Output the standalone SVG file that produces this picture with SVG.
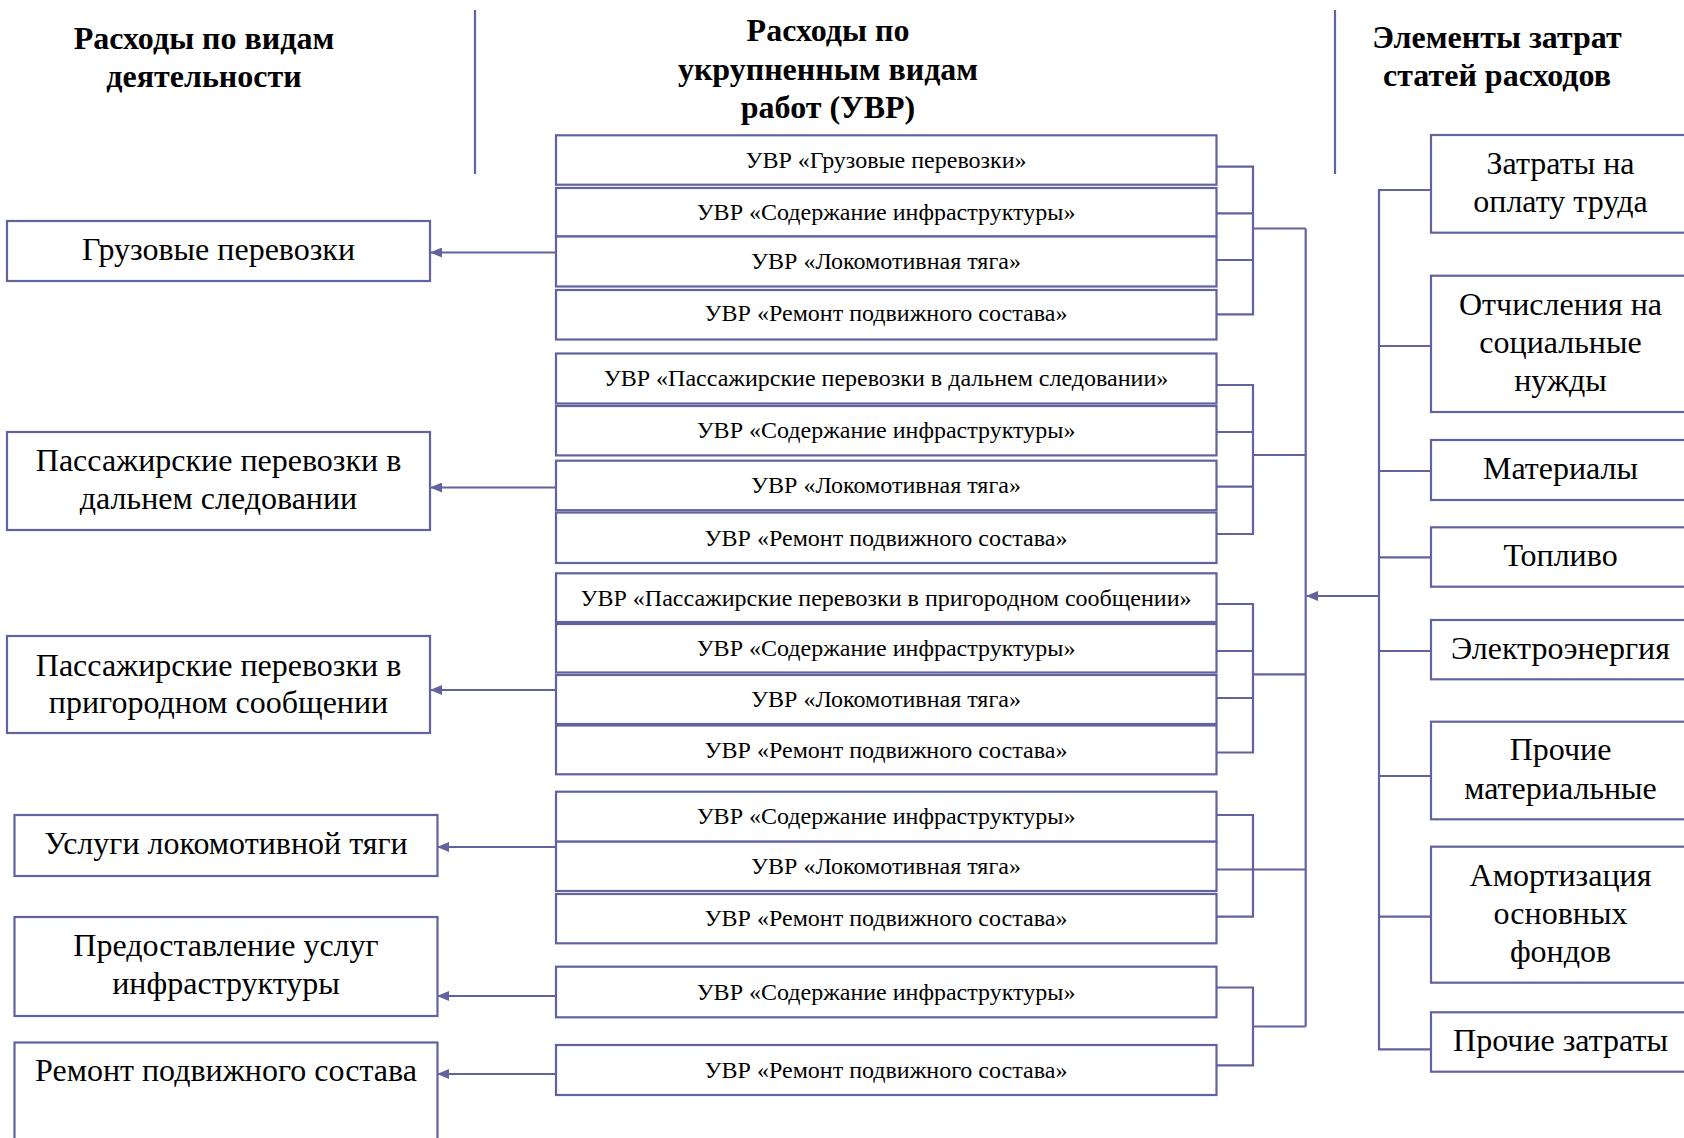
<svg xmlns="http://www.w3.org/2000/svg" width="1684" height="1138" viewBox="0 0 1684 1138">
<style>
.bx{fill:#fff;stroke:#62639e;stroke-width:2.2}
.ln{fill:none;stroke:#62639e;stroke-width:2.2}
.t{font-family:"Liberation Serif","Times New Roman",serif;fill:#000;text-anchor:middle}
.big{font-size:32px}
.uvr{font-size:24px}
.hd{font-size:32px;font-weight:bold}
</style>
<defs>
<marker id="ah" viewBox="0 0 12 10" refX="11" refY="5" markerWidth="12" markerHeight="10" markerUnits="userSpaceOnUse" orient="auto">
<path d="M0,0 L12,5 L0,10 z" fill="#62639e"/>
</marker>
</defs>
<rect width="1684" height="1138" fill="#fff"/>

<g id="headings">
<text class="t hd" x="204" y="49">Расходы по видам</text>
<text class="t hd" x="204" y="87">деятельности</text>
<text class="t hd" x="828" y="41">Расходы по</text>
<text class="t hd" x="828" y="80">укрупненным видам</text>
<text class="t hd" x="828" y="118">работ (УВР)</text>
<text class="t hd" x="1497" y="48">Элементы затрат</text>
<text class="t hd" x="1497" y="86">статей расходов</text>
<line class="ln" x1="475" y1="10" x2="475" y2="174"/>
<line class="ln" x1="1335" y1="10" x2="1335" y2="174"/>
</g>

<g id="connectors">
<line class="ln" x1="556" y1="252.5" x2="431" y2="252.5" marker-end="url(#ah)"/>
<line class="ln" x1="556" y1="487.5" x2="431" y2="487.5" marker-end="url(#ah)"/>
<line class="ln" x1="556" y1="690" x2="431" y2="690" marker-end="url(#ah)"/>
<line class="ln" x1="556" y1="847" x2="438" y2="847" marker-end="url(#ah)"/>
<line class="ln" x1="556" y1="996" x2="438" y2="996" marker-end="url(#ah)"/>
<line class="ln" x1="556" y1="1074" x2="438" y2="1074" marker-end="url(#ah)"/>
<path class="ln" d="M1216.5,166.7H1253V314.3H1216.5M1216.5,213.3H1253M1216.5,260H1253M1253,228.5H1305.7"/>
<path class="ln" d="M1216.5,385H1253V534H1216.5M1216.5,432H1253M1216.5,486.6H1253M1253,455H1305.7"/>
<path class="ln" d="M1216.5,604H1253V752.5H1216.5M1216.5,651H1253M1216.5,698H1253M1253,674.3H1305.7"/>
<path class="ln" d="M1216.5,815H1253V916.7H1216.5M1216.5,869.5H1305.7"/>
<path class="ln" d="M1216.5,987.5H1253V1065.3H1216.5M1253,1026.5H1305.7"/>
<line class="ln" x1="1305.7" y1="228.5" x2="1305.7" y2="1026.5"/>
<line class="ln" x1="1379" y1="596" x2="1307" y2="596" marker-end="url(#ah)"/>
<path class="ln" d="M1431,190H1379V1049.3H1431M1379,346H1431M1379,471H1431M1379,557.3H1431M1379,651H1431M1379,776H1431M1379,916.7H1431"/>
</g>

<g id="act-freight"><rect class="bx" x="7" y="221" width="423" height="60"/><text class="t big" x="218.5" y="260">Грузовые перевозки</text></g>
<g id="act-long"><rect class="bx" x="7" y="432" width="423" height="98"/><text class="t big" x="218.5" y="471">Пассажирские перевозки в</text><text class="t big" x="218.5" y="509">дальнем следовании</text></g>
<g id="act-suburb"><rect class="bx" x="7" y="636" width="423" height="97"/><text class="t big" x="218.5" y="675.5">Пассажирские перевозки в</text><text class="t big" x="218.5" y="713">пригородном сообщении</text></g>
<g id="act-loco"><rect class="bx" x="14.5" y="815" width="423" height="61"/><text class="t big" x="226" y="853.5">Услуги локомотивной тяги</text></g>
<g id="act-infra"><rect class="bx" x="14.5" y="917" width="423" height="99"/><text class="t big" x="226" y="955.5">Предоставление услуг</text><text class="t big" x="226" y="993.5">инфраструктуры</text></g>
<g id="act-repair"><rect class="bx" x="14.5" y="1042.5" width="423" height="110"/><text class="t big" x="226" y="1080.5">Ремонт подвижного состава</text></g>

<g id="g1-1"><rect class="bx" x="556" y="135.3" width="660.5" height="49.4"/><text class="t uvr" x="886" y="167.5">УВР «Грузовые перевозки»</text></g>
<g id="g1-2"><rect class="bx" x="556" y="188" width="660.5" height="48.5"/><text class="t uvr" x="886" y="220">УВР «Содержание инфраструктуры»</text></g>
<g id="g1-3"><rect class="bx" x="556" y="236.5" width="660.5" height="50"/><text class="t uvr" x="886" y="269">УВР «Локомотивная тяга»</text></g>
<g id="g1-4"><rect class="bx" x="556" y="290" width="660.5" height="49.5"/><text class="t uvr" x="886" y="320.5">УВР «Ремонт подвижного состава»</text></g>

<g id="g2-1"><rect class="bx" x="556" y="353.5" width="660.5" height="50"/><text class="t uvr" x="886" y="386">УВР «Пассажирские перевозки в дальнем следовании»</text></g>
<g id="g2-2"><rect class="bx" x="556" y="406" width="660.5" height="49.4"/><text class="t uvr" x="886" y="438">УВР «Содержание инфраструктуры»</text></g>
<g id="g2-3"><rect class="bx" x="556" y="460.7" width="660.5" height="49.5"/><text class="t uvr" x="886" y="493">УВР «Локомотивная тяга»</text></g>
<g id="g2-4"><rect class="bx" x="556" y="512.5" width="660.5" height="50.5"/><text class="t uvr" x="886" y="545.5">УВР «Ремонт подвижного состава»</text></g>

<g id="g3-1"><rect class="bx" x="556" y="573.3" width="660.5" height="48.7"/><text class="t uvr" x="886" y="605.5">УВР «Пассажирские перевозки в пригородном сообщении»</text></g>
<g id="g3-2"><rect class="bx" x="556" y="624" width="660.5" height="48.5"/><text class="t uvr" x="886" y="656">УВР «Содержание инфраструктуры»</text></g>
<g id="g3-3"><rect class="bx" x="556" y="675" width="660.5" height="49"/><text class="t uvr" x="886" y="707">УВР «Локомотивная тяга»</text></g>
<g id="g3-4"><rect class="bx" x="556" y="725.5" width="660.5" height="48.8"/><text class="t uvr" x="886" y="757.5">УВР «Ремонт подвижного состава»</text></g>

<g id="g4-1"><rect class="bx" x="556" y="791.7" width="660.5" height="50"/><text class="t uvr" x="886" y="824">УВР «Содержание инфраструктуры»</text></g>
<g id="g4-2"><rect class="bx" x="556" y="841.7" width="660.5" height="49.3"/><text class="t uvr" x="886" y="874">УВР «Локомотивная тяга»</text></g>
<g id="g4-3"><rect class="bx" x="556" y="894" width="660.5" height="49.3"/><text class="t uvr" x="886" y="926">УВР «Ремонт подвижного состава»</text></g>

<g id="g5-1"><rect class="bx" x="556" y="966.7" width="660.5" height="50.6"/><text class="t uvr" x="886" y="999.5">УВР «Содержание инфраструктуры»</text></g>
<g id="g5-2"><rect class="bx" x="556" y="1045" width="660.5" height="50"/><text class="t uvr" x="886" y="1077.5">УВР «Ремонт подвижного состава»</text></g>

<g id="el-labor"><rect class="bx" x="1431" y="135" width="280" height="97.7"/><text class="t big" x="1560.5" y="174">Затраты на</text><text class="t big" x="1560.5" y="211.5">оплату труда</text></g>
<g id="el-social"><rect class="bx" x="1431" y="275.7" width="280" height="136.3"/><text class="t big" x="1560.5" y="315">Отчисления на</text><text class="t big" x="1560.5" y="353">социальные</text><text class="t big" x="1560.5" y="390.5">нужды</text></g>
<g id="el-mat"><rect class="bx" x="1431" y="440" width="280" height="60"/><text class="t big" x="1560.5" y="479">Материалы</text></g>
<g id="el-fuel"><rect class="bx" x="1431" y="527.3" width="280" height="59.4"/><text class="t big" x="1560.5" y="565.5">Топливо</text></g>
<g id="el-power"><rect class="bx" x="1431" y="620" width="280" height="59.3"/><text class="t big" x="1560.5" y="659">Электроэнергия</text></g>
<g id="el-othermat"><rect class="bx" x="1431" y="721.7" width="280" height="97.6"/><text class="t big" x="1560.5" y="760">Прочие</text><text class="t big" x="1560.5" y="799">материальные</text></g>
<g id="el-amort"><rect class="bx" x="1431" y="846.7" width="280" height="136"/><text class="t big" x="1560.5" y="885.5">Амортизация</text><text class="t big" x="1560.5" y="924">основных</text><text class="t big" x="1560.5" y="961.5">фондов</text></g>
<g id="el-other"><rect class="bx" x="1431" y="1012.3" width="280" height="59.4"/><text class="t big" x="1560.5" y="1050.5">Прочие затраты</text></g>
</svg>
